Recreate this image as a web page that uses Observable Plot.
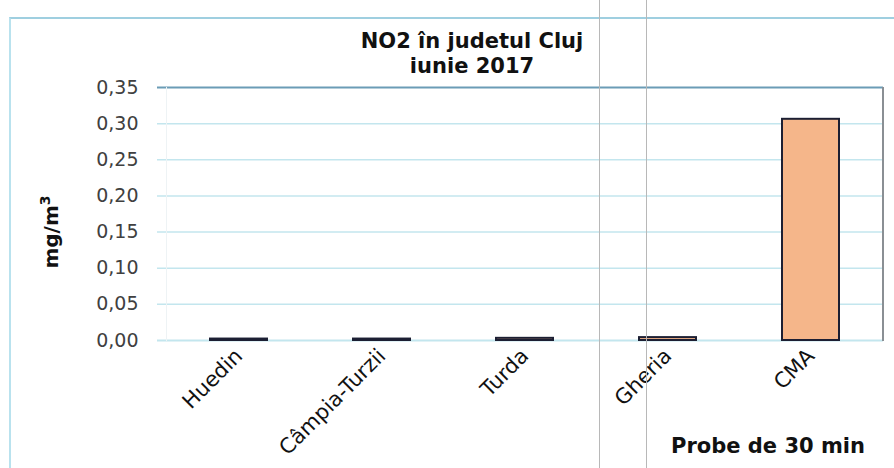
<!DOCTYPE html>
<html>
<head>
<meta charset="utf-8">
<script src="https://cdn.jsdelivr.net/npm/d3@7"></script>
<script src="https://cdn.jsdelivr.net/npm/@observablehq/plot@0.6"></script>
<style>
  html, body { margin: 0; padding: 0; background: #fff; }
  #wrap { position: relative; width: 894px; height: 468px; overflow: hidden; font-family: "DejaVu Sans", sans-serif; }
  #frame { position: absolute; left: 9px; top: 17px; width: 900px; height: 500px; border-left: 2px solid #b9e2ee; border-top: 2px solid #9fcfe0; }
  .title { position: absolute; left: 272px; width: 400px; text-align: center; font-weight: bold; font-size: 21px; color: #111; line-height: 25px; top: 29px; }
  .ylabel { position: absolute; left: 50px; top: 232px; transform: translate(-50%, -50%) rotate(-90deg); font-weight: bold; font-size: 20px; color: #111; white-space: nowrap; }
  .xlabel { position: absolute; left: 768px; top: 434px; transform: translateX(-50%); font-weight: bold; font-size: 21px; color: #111; white-space: nowrap; }
  .rborder { position: absolute; left: 882px; top: 87px; width: 2px; height: 254px; background: #8a8f94; }
  .lborder { position: absolute; left: 166px; top: 87px; width: 1px; height: 254px; background: #eef3f5; }
  .scan { position: absolute; top: 0; width: 1px; height: 468px; background: #b8b8b8; }
  #chart { position: absolute; left: 0; top: 0; }
</style>
</head>
<body>
<div id="wrap">
  <div id="frame"></div>
  <div id="chart"></div>
  <div class="lborder"></div>
  <div class="rborder"></div>
  <div class="title">NO2 în judetul Cluj<br>iunie 2017</div>
  <div class="ylabel">mg/m<sup style="font-size:14px">3</sup></div>
  <div class="xlabel">Probe de 30 min</div>
  <div class="scan" style="left:599px"></div>
  <div class="scan" style="left:646px"></div>
</div>
<script>
const stations = ["Huedin", "Câmpia-Turzii", "Turda", "Gheria", "CMA"];
const values = [0.002, 0.002, 0.003, 0.004, 0.306];
const yTicks = [0, 0.05, 0.10, 0.15, 0.20, 0.25, 0.30, 0.35];

const data = stations.map((s, i) => ({station: s, value: values[i]}));
const fmt = d => d.toFixed(2).replace(".", ",");

const chart = Plot.plot({
  width: 894,
  height: 468,
  marginLeft: 166,
  marginRight: 11,
  marginTop: 87,
  marginBottom: 128,
  style: { fontFamily: "DejaVu Sans, sans-serif", fontSize: "19px", color: "#404040", background: "transparent", overflow: "visible" },
  x: { type: "band", domain: stations, paddingInner: 0.6, paddingOuter: 0.3, label: null },
  y: { domain: [0, 0.35], label: null },
  marks: [
    Plot.ruleY(yTicks.filter(d => d > 0 && d < 0.35), { stroke: "#c3e6ee", strokeWidth: 1.5, insetLeft: -9 }),
    Plot.ruleY([0.35], { stroke: "#6b9cb6", strokeWidth: 2, insetLeft: -9 }),
    Plot.ruleY([0], { stroke: "#c3e6ee", strokeWidth: 2, insetLeft: -9 }),
    Plot.barY(data, { x: "station", y: "value", fill: "#f5b68a", stroke: "#1c1f33", strokeWidth: 2 }),
    Plot.axisY({ ticks: yTicks, tickSize: 0, tickPadding: 28, tickFormat: fmt, fontSize: 19 }),
    Plot.axisX({ tickSize: 0, tickRotate: -45, tickPadding: 12, fontSize: 21, fill: "#111" })
  ]
});
document.getElementById("chart").appendChild(chart);
</script>
</body>
</html>
